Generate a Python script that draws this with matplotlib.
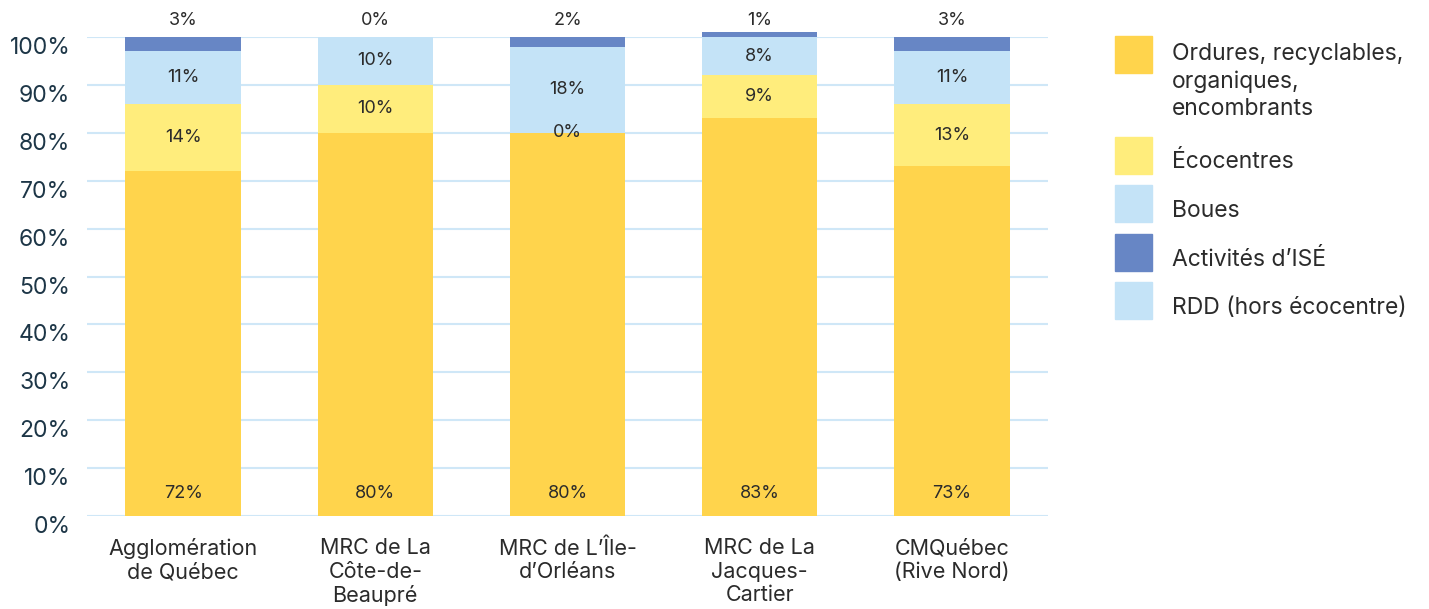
import matplotlib.pyplot as plt
import matplotlib.patches as mpatches
import numpy as np

plt.rcParams["font.family"] = ["Inter", "DejaVu Sans"]

CATEGORIES = ["Agglomération\nde Québec", "MRC de La\nCôte-de-\nBeaupré", "MRC de L\u2019Île-\nd\u2019Orléans",
              "MRC de La\nJacques-\nCartier", "CMQuébec\n(Rive Nord)"]

SERIES = ["Ordures, recyclables,\norganiques,\nencombrants", "Écocentres", "Boues",
          "Activités d\u2019ISÉ", "RDD (hors écocentre)"]
ORDURES = [72, 80, 80, 83, 73]
ECOCENTRES = [14, 10, 0, 9, 13]
BOUES = [11, 10, 18, 8, 11]
ISE = [3, 0, 2, 1, 3]
RDD = [0, 0, 0, 0, 0]
COLORS = ["#FFD44C", "#FFED7C", "#C4E3F7", "#6786C5", "#C4E3F7"]

TEXT = "#2b2b2b"
TICK = "#1d3647"
GRID = "#CFE7F7"

fig = plt.figure(figsize=(14.29, 6.09), dpi=100)
ax = fig.add_axes([87 / 1429, 1 - 516 / 609, 961 / 1429, 479 / 609])

x = np.arange(len(CATEGORIES))
width = 0.6
bottom = np.zeros(len(CATEGORIES))
data = [ORDURES, ECOCENTRES, BOUES, ISE, RDD]
for i, (vals, color) in enumerate(zip(data, COLORS)):
    vals = np.array(vals, dtype=float)
    ax.bar(x, vals, width, bottom=bottom, color=color, clip_on=False, zorder=2)
    for xi, b, v in zip(x, bottom, vals):
        if i == 0:
            ax.text(xi, 4.6, f"{v:.0f}%", ha="center", va="center", fontsize=13, color=TEXT, zorder=3)
        elif i in (1, 2):
            ax.text(xi, b + v / 2, f"{v:.0f}%", ha="center", va="center", fontsize=13, color=TEXT, zorder=3)
        elif i == 3:
            ax.text(xi, 103.4, f"{v:.0f}%", ha="center", va="center", fontsize=13, color=TEXT,
                    zorder=3, clip_on=False)
    bottom += vals

ax.set_xlim(-0.5, len(CATEGORIES) - 0.5)
ax.set_ylim(0, 100)
ax.set_yticks(np.arange(0, 101, 10))
ax.set_yticklabels([f"{v}%" for v in range(0, 101, 10)], fontsize=16.5, color=TICK)
for lbl in ax.get_yticklabels():
    lbl.set_va("top")
ax.set_xticks(x)
ax.set_xticklabels(CATEGORIES, fontsize=15.5, color=TEXT, linespacing=1.22)
ax.tick_params(axis="both", length=0)
ax.tick_params(axis="y", pad=12)
ax.tick_params(axis="x", pad=16)
ax.yaxis.grid(True, color=GRID, linewidth=1.5, zorder=0)
ax.set_axisbelow(True)
for s in ax.spines.values():
    s.set_visible(False)

# legend drawn in figure pixel coordinates
lax = fig.add_axes([0, 0, 1, 1])
lax.set_xlim(0, 1429)
lax.set_ylim(609, 0)
lax.axis("off")
top = 36
for name, color in zip(SERIES, COLORS):
    lax.add_patch(mpatches.Rectangle((1115, top), 37, 37, color=color))
    nlines = name.count("\n") + 1
    if nlines > 1:
        lax.text(1172, top + 7, name, ha="left", va="top",
                 fontsize=16.5, color=TEXT, linespacing=1.3)
    else:
        lax.text(1172, top + 32, name, ha="left", va="baseline", fontsize=16.5, color=TEXT)
    top += 48.5 + (nlines - 1) * 26

fig.savefig("out.png", dpi=100, facecolor="white")
